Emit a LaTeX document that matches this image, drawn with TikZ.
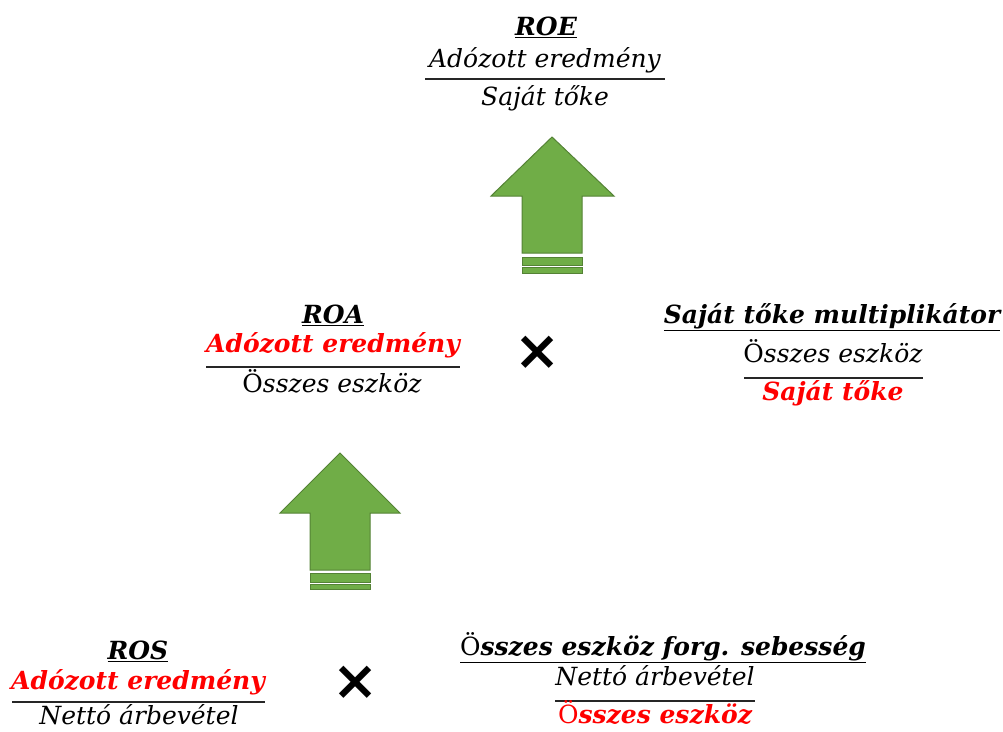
\documentclass[tikz,border=0pt]{standalone}
\usepackage{fontspec}
\setmainfont{DejaVu Serif}
\newfontfamily\symfont{DejaVu Sans}
\usepackage{xcolor}
\usepackage{tikz}

\definecolor{arrowgreen}{HTML}{70AD47}
\definecolor{arrowedge}{HTML}{548235}

\tikzset{
  lbl/.style={anchor=base, inner sep=0pt, font=\fontsize{25}{30}\selectfont\itshape},
  ttl/.style={anchor=base, inner sep=0pt, font=\fontsize{25}{30}\selectfont\bfseries\itshape},
  rednum/.style={ttl, text=red},
  fracline/.style={line width=1.3pt, draw=black!85},
  bigarrow/.style={fill=arrowgreen, draw=arrowedge, line width=1pt},
  timessign/.style={inner sep=0pt, font=\symfont\bfseries\fontsize{55}{55}\selectfont},
}

\begin{document}
\begin{tikzpicture}[x=1pt,y=-1pt]
            \useasboundingbox (0,0) rectangle (1003,731);

            % ROE
            \node[ttl] (roe) at (546,35) {\underline{ROE}};
            \node[lbl] (roenum) at (545,67) {Adózott eredmény};
            \draw[fracline] (425,79) -- (665,79);
            \node[lbl] (roeden) at (545,105) {Saját tőke};

            % ROA
            \node[ttl] (roa) at (333,323) {\underline{ROA}};
            \node[rednum] (roanum) at (333,352) {Adózott eredmény};
            \draw[fracline] (206,367) -- (460,367);
            \node[lbl] (roaden) at (332,392) {\textup{Ö}sszes eszköz};

            % Saját tőke multiplikátor
            \node[ttl] (mult) at (832,323) {\underline{Saját tőke multiplikátor}};
            \node[lbl] (multnum) at (833,362) {\textup{Ö}sszes eszköz};
            \draw[fracline] (744,378) -- (923,378);
            \node[rednum] (multden) at (833,400) {Saját tőke};

            % ROS
            \node[ttl] (ros) at (138,659) {\underline{ROS}};
            \node[rednum] (rosnum) at (138,689) {Adózott eredmény};
            \draw[fracline] (12,702) -- (265,702);
            \node[lbl] (rosden) at (139,724) {Nettó árbevétel};

            % Összes eszköz forg. sebesség
            \node[ttl] (forg) at (663,655) {\underline{\textup{\mdseries Ö}sszes eszköz forg. sebesség}};
            \node[lbl] (forgnum) at (655,685) {Nettó árbevétel};
            \draw[fracline] (555,701) -- (755,701);
            \node[rednum] (forgden) at (655,723) {\textup{\mdseries Ö}sszes eszköz};

            % multiplication signs
            \node[timessign] (times1) at (538,353) {×};
            \node[timessign] (times2) at (356,683) {×};

            % upper arrow
            \draw[bigarrow] (552,137) -- (614,196) -- (582,196) -- (582,253) -- (522,253) -- (522,196) -- (491,196) -- cycle;
            \draw[bigarrow] (522,257) rectangle (582,265);
            \draw[bigarrow] (522,267) rectangle (582,273);

            % lower arrow
            \draw[bigarrow] (340,453) -- (400,513) -- (370,513) -- (370,570) -- (310,570) -- (310,513) -- (280,513) -- cycle;
            \draw[bigarrow] (310,573) rectangle (370,582);
            \draw[bigarrow] (310,584) rectangle (370,589);
        \end{tikzpicture}
\end{document}
